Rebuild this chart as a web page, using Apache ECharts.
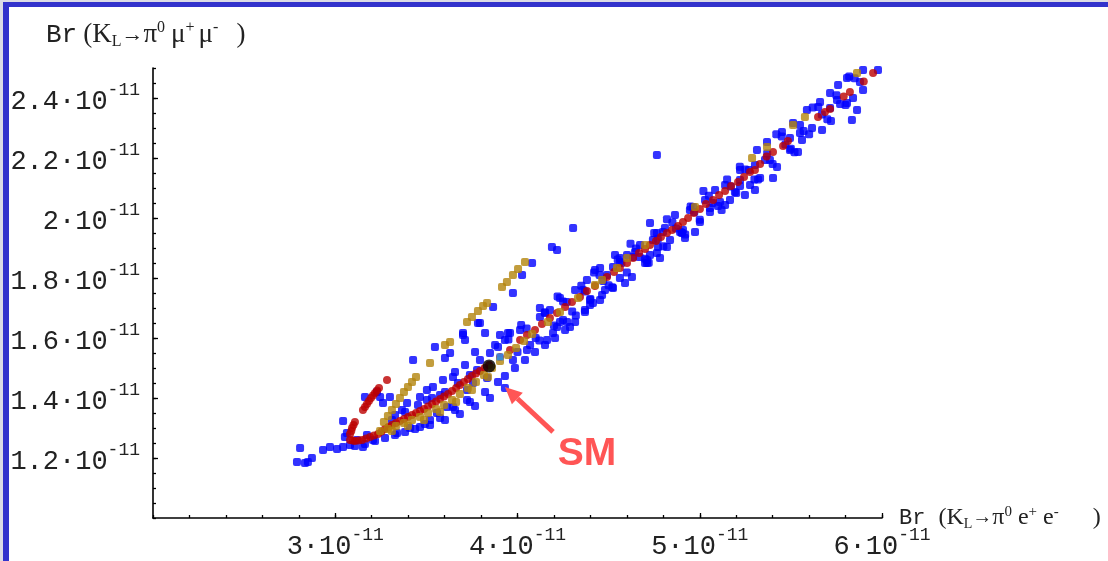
<!DOCTYPE html>
<html><head><meta charset="utf-8">
<script src="https://cdn.jsdelivr.net/npm/echarts@6/dist/echarts.min.js"></script>
<style>html,body{margin:0;padding:0;background:#fff}#c{width:1108px;height:561px}</style>
</head><body><div id="c"></div>
<script>
// Values in units of 1e-11: [Br(KL->pi0 e+e-), Br(KL->pi0 mu+mu-)]
const bluePoints = [
[2.79,1.187],[2.807,1.233],[2.834,1.183],[2.872,1.2],[2.85,1.187],[2.933,1.227],[2.971,1.237],[3.01,1.23],
[3.043,1.237],[3.043,1.323],[3.064,1.283],[3.081,1.243],[3.119,1.26],[3.152,1.237],[3.174,1.277],[3.207,1.26],[3.053,1.27],
[3.163,1.403],[3.229,1.42],[3.246,1.403],[3.262,1.383],[3.3,1.403],[3.328,1.343],[3.339,1.283],[3.366,1.36],[3.394,1.383],
[3.427,1.527],[3.465,1.403],[3.465,1.303],[3.503,1.393],[3.503,1.427],[3.52,1.327],[3.536,1.437],[3.547,1.57],[3.558,1.35],
[3.591,1.46],[3.602,1.533],[3.613,1.37],[3.63,1.55],[3.646,1.47],[3.646,1.37],[3.701,1.617],[3.712,1.593],[3.723,1.427],
[3.723,1.393],[3.756,1.45],[3.767,1.553],[3.778,1.493],[3.794,1.65],[3.822,1.617],[3.833,1.467],[3.849,1.55],[3.866,1.703],
[3.893,1.57],[3.948,1.617],[3.975,1.527],[3.975,1.75],[4.025,1.81],[4.052,1.56],[4.08,1.85],[4.123,1.67],[4.123,1.7],
[4.162,1.593],[4.189,1.903],[4.195,1.617],[4.217,1.893],[4.217,1.637],[4.25,1.66],[4.272,1.653],[4.288,1.637],[4.305,1.967],
[3.783,1.65],[3.701,1.61],[3.959,1.617],
[3.41,1.3],[3.492,1.313],[3.575,1.333],[3.657,1.36],[3.739,1.387],[3.822,1.42],[3.893,1.453],[3.931,1.473],[3.986,1.5],
[4.041,1.527],[4.096,1.553],[4.151,1.577],[4.206,1.6],[4.261,1.627],[4.316,1.653],[4.37,1.687],[4.398,1.71],
[4.359,1.76],[4.381,1.793],[4.37,1.693],[4.414,1.717],[4.491,1.81],[4.524,1.767],[4.628,1.803],[4.634,1.87],[4.711,1.85],
[4.743,1.927],[4.765,1.883],[4.798,1.953],[4.837,1.927],[4.864,2.01],[4.727,1.983],[4.765,1.95],[4.908,1.96],[4.919,1.933],
[4.963,2.037],[5.001,1.987],[5.056,2.02],[5.111,2.053],[4.771,1.903],[4.711,1.86],[4.7,1.85],[4.601,1.877],[4.524,1.837],
[4.48,1.76],[4.464,1.743],[4.82,1.903],[4.903,1.95],[4.453,1.833],[4.562,1.867],[4.672,1.91],[4.316,1.76],[4.233,1.733],
[4.178,1.693],[4.425,1.827],[4.535,1.877],
[4.765,2.21],
[5.029,2.06],[5.084,2.093],[5.139,2.11],[5.166,2.06],[5.193,2.087],[5.221,2.127],[5.248,2.077],[5.276,2.11],[5.303,2.093],
[5.314,2.227],[5.331,2.133],[5.369,2.253],[5.402,2.133],[5.424,2.17],[5.451,2.287],[5.495,2.267],[5.512,2.317],[5.539,2.22],
[5.561,2.26],[5.588,2.36],[5.616,2.3],[5.66,2.387],[5.671,2.293],[5.715,2.417],[5.753,2.393],[5.759,2.443],[5.808,2.467],
[5.808,2.383],[5.835,2.327],[5.841,2.4],[5.863,2.36],[5.896,2.427],[5.896,2.493],[5.978,2.493],[5.303,2.177],[5.358,2.193],[5.221,2.16],
[4.069,1.577],[4.233,1.653],[4.398,1.727],[4.562,1.8],[4.727,1.877],[4.892,1.953],[5.056,2.033],[5.221,2.107],[5.385,2.193],
[5.55,2.283],[5.715,2.367],[5.879,2.453],
[4.151,1.683],[4.562,1.853],[4.645,1.887],[4.809,1.967],[4.946,2.027],
[4.453,1.727],[4.59,1.783],[4.782,1.867],[4.974,1.953],[5.139,2.043],[5.495,2.227],
[3.95,1.595],[4.05,1.632],[4.15,1.686],[4.25,1.722],[4.35,1.774],[4.45,1.81],[4.55,1.862],[4.65,1.898],[4.75,1.95],
[4.85,1.985],[4.95,2.038],[5.05,2.074],[5.15,2.128],[5.25,2.162],[5.45,2.272],[5.55,2.31],[5.65,2.37],[5.75,2.409],[5.85,2.466],
[4.0,1.553],[4.1,1.6],[4.2,1.642],[4.3,1.688],[4.4,1.73],[4.5,1.776],[4.6,1.818],[4.7,1.864],[4.8,1.906],[4.9,1.952],
[5.0,1.994],[5.1,2.04],[5.2,2.083],[5.3,2.128],[5.4,2.18],[5.5,2.231],[5.6,2.279],[5.7,2.329],[5.8,2.377],
[3.108,1.24],[3.163,1.247],[3.218,1.257],[3.273,1.267],[3.328,1.277],[3.383,1.287],[3.438,1.297],[3.52,1.31],[3.602,1.327],
[3.684,1.347],[3.767,1.373],[3.849,1.4],[3.931,1.433],
[3.311,1.327],[3.383,1.353],[3.454,1.377],[3.531,1.4],[3.602,1.42],[3.673,1.45],[3.739,1.477],[3.575,1.41],[3.657,1.487],
[3.712,1.51],[3.794,1.527],[3.877,1.577],[3.931,1.593],[4.014,1.627],[3.904,1.61],
[4.02,1.643],[4.22,1.738],[4.42,1.818],[4.62,1.914],[4.82,1.996],[5.02,2.09],[5.22,2.171],[5.42,2.279],[5.62,2.368],[5.82,2.472],
[4.12,1.592],[4.32,1.675],[4.52,1.769],[4.72,1.851],[4.92,1.945],[5.12,2.027],[5.32,2.128],[5.52,2.219],[5.72,2.323],
[4.27,1.72],[4.47,1.79],[4.67,1.87],[4.87,1.965],[5.07,2.05],[5.27,2.16],[5.47,2.245],[5.67,2.345],
[4.37,1.755],[4.57,1.85],[4.77,1.93],[4.97,2.02],[5.17,2.105],[5.37,2.215],[5.57,2.29],[5.77,2.38]
];
const redPoints = [
[3.081,1.26],[3.108,1.257],[3.147,1.26],[3.191,1.27],[3.235,1.28],[3.273,1.297],[3.311,1.31],[3.355,1.323],[3.399,1.337],
[3.443,1.35],[3.487,1.363],[3.531,1.38],[3.575,1.397],[3.619,1.413],[3.663,1.433],[3.706,1.453],[3.75,1.473],[3.794,1.49],
[3.095,1.258],[3.128,1.258],[3.169,1.265],[3.213,1.275],[3.254,1.288],[3.292,1.303],[3.333,1.317],[3.377,1.33],[3.421,1.343],
[3.465,1.357],[3.509,1.372],[3.553,1.388],[3.597,1.405],[3.641,1.423],[3.684,1.443],[3.728,1.463],[3.772,1.482],[3.82,1.5],
[3.081,1.28],[3.092,1.3],[3.108,1.32],[3.152,1.36],[3.174,1.38],[3.196,1.4],[3.218,1.417],[3.24,1.433],[3.284,1.46],
[3.088,1.29],[3.1,1.31],[3.163,1.37],[3.185,1.39],[3.207,1.408],[3.229,1.425],
[3.844,1.51],[3.904,1.537],[3.959,1.56],[4.014,1.593],[4.096,1.627],[4.178,1.667],[4.261,1.703],[4.343,1.737],[4.425,1.773],
[4.491,1.803],[4.562,1.833],[4.634,1.867],[4.7,1.897],[4.76,1.923],[4.82,1.95],[4.881,1.973],[4.936,2.0],[5.001,2.03],
[5.073,2.06],[5.139,2.09],[5.21,2.12],[5.276,2.153],[5.303,2.16],[5.331,2.18],[5.402,2.22],[5.457,2.24],[5.484,2.257],
[5.649,2.337],[5.687,2.353],[5.715,2.363],[5.824,2.42],[5.951,2.483],
[4.052,1.61],[4.134,1.647],[4.217,1.683],[4.299,1.72],[4.381,1.757],[4.53,1.82],[4.601,1.85],[4.667,1.883],[4.727,1.91],
[4.787,1.937],[4.848,1.96],[4.908,1.987],[4.968,2.017],[5.034,2.047],[5.106,2.077],[5.172,2.107],[5.243,2.137],
[5.367,2.205],[5.79,2.405],[5.9,2.455]
];
const goldPoints = [
[3.246,1.29],[3.289,1.297],[3.333,1.307],[3.377,1.317],[3.421,1.327],[3.465,1.337],[3.509,1.35],[3.553,1.363],[3.597,1.377],
[3.641,1.393],[3.684,1.413],[3.728,1.433],[3.772,1.453],[3.816,1.477],[3.86,1.5],[3.904,1.523],[3.948,1.543],[3.992,1.567],
[4.036,1.59],[4.08,1.613],
[3.311,1.29],[3.399,1.307],[3.487,1.327],[3.575,1.353],[3.663,1.387],[3.75,1.427],[3.838,1.47],
[3.267,1.32],[3.289,1.34],[3.311,1.36],[3.333,1.38],[3.355,1.4],[3.377,1.42],[3.399,1.437],[3.421,1.453],[3.443,1.47],
[3.52,1.517],[3.602,1.577],[3.63,1.587],[3.723,1.653],[3.75,1.67],[3.783,1.69],[3.811,1.707],[3.833,1.717],
[3.915,1.77],[3.942,1.787],[3.975,1.81],[4.003,1.83],[4.041,1.853],
[4.167,1.653],[4.233,1.687],[4.332,1.733],[4.425,1.777],[4.464,1.793],[4.546,1.833],[4.601,1.867],[4.7,1.91],[4.974,2.037],
[5.287,2.2],[5.369,2.237],[5.512,2.31],[5.577,2.337],[5.863,2.483]
];
const smPoint = [[3.844,1.507]];
const lightBluePoint = [[3.904,1.537]];
const xTickValues = [3,4,5,6];
const yTickValues = [1.2,1.4,1.6,1.8,2.0,2.2,2.4];
const arrowFrom = [4.195,1.287];
const arrowTo = [3.931,1.437];
const smLabelAt = [4.381,1.213];

const MONO = 'Liberation Mono';
const SERIF = 'Liberation Serif';
const INK = '#222';
function sciLabel(v){
  const n = Number(v.toFixed(1));
  return '{b|' + n + '·10}{s|-11}';
}
const tickRich = {
  b:{fontFamily:MONO,fontSize:27,color:INK,lineHeight:34,verticalAlign:'bottom'},
  s:{fontFamily:MONO,fontSize:18,color:INK,lineHeight:18,verticalAlign:'top'}
};
const chart = echarts.init(document.getElementById('c'));
const gridPos = {left:153,right:226,top:68,bottom:43};
chart.setOption({
  animation:false,
  backgroundColor:'#ffffff',
  grid:[Object.assign({},gridPos),Object.assign({},gridPos)],
  xAxis:[
    {type:'value',gridIndex:0,min:2,max:6,interval:1,
     axisLine:{show:true,onZero:false,lineStyle:{color:'#000',width:1.6}},
     axisTick:{show:true,inside:true,length:5,customValues:xTickValues,lineStyle:{color:'#000',width:1.3}},
     axisLabel:{show:true,margin:8,customValues:xTickValues,formatter:sciLabel,rich:tickRich},
     splitLine:{show:false}},
    {type:'value',gridIndex:1,min:2,max:6,interval:0.2,
     axisLine:{show:false},
     axisTick:{show:true,inside:true,length:3,lineStyle:{color:'#000',width:1.3}},
     axisLabel:{show:false},splitLine:{show:false}}
  ],
  yAxis:[
    {type:'value',gridIndex:0,min:1,max:2.5,interval:0.2,
     axisLine:{show:true,onZero:false,lineStyle:{color:'#000',width:1.6}},
     axisTick:{show:true,inside:true,length:5,customValues:yTickValues,lineStyle:{color:'#000',width:1.3}},
     axisLabel:{show:true,margin:13,customValues:yTickValues,formatter:sciLabel,rich:tickRich},
     splitLine:{show:false}},
    {type:'value',gridIndex:1,min:1,max:2.5,interval:0.05,
     axisLine:{show:false},
     axisTick:{show:true,inside:true,length:3,lineStyle:{color:'#000',width:1.3}},
     axisLabel:{show:false},splitLine:{show:false}}
  ],
  series:[
    {type:'scatter',name:'blue',data:bluePoints,symbol:'roundRect',symbolSize:8,itemStyle:{color:'#0000ff'},silent:true},
    {type:'scatter',name:'red',data:redPoints,symbol:'circle',symbolSize:8,itemStyle:{color:'#bb0000'},silent:true},
    {type:'scatter',name:'gold',data:goldPoints,symbol:'roundRect',symbolSize:8,itemStyle:{color:'#b3850c'},silent:true},
    {type:'scatter',name:'lightblue',data:lightBluePoint,symbol:'rect',symbolSize:7,itemStyle:{color:'#1e90ff'},silent:true},
    {type:'scatter',name:'SM',data:smPoint,symbol:'circle',symbolSize:13,itemStyle:{color:'#000'},silent:true,
     markPoint:{silent:true,symbol:'circle',symbolSize:0,
       label:{show:true,position:'inside',formatter:'SM',fontFamily:'Liberation Sans',fontWeight:'bold',fontSize:39,color:'#ff5555'},
       data:[{coord:smLabelAt}]}}
  ]
});

// annotation arrow anchored to data coordinates
const p1 = chart.convertToPixel({gridIndex:0}, arrowFrom);
const p2 = chart.convertToPixel({gridIndex:0}, arrowTo);
const dx = p2[0]-p1[0], dy = p2[1]-p1[1];
const len = Math.hypot(dx,dy), ux = dx/len, uy = dy/len;
const headLen = 17, headHalf = 8;
const base = [p2[0]-ux*headLen, p2[1]-uy*headLen];
const wingA = [base[0]-uy*headHalf, base[1]+ux*headHalf];
const wingB = [base[0]+uy*headHalf, base[1]-ux*headHalf];
const ARROW = '#ff5555';

const titleRichY = {
  m:{fontFamily:MONO,fontSize:26,fill:INK,lineHeight:30},
  p:{fontFamily:SERIF,fontSize:27,fill:INK,lineHeight:30,padding:[0,0,0,6]},
  k:{fontFamily:SERIF,fontSize:27,fill:INK,lineHeight:30},
  a:{fontFamily:SERIF,fontSize:22,fill:INK,lineHeight:30},
  sub:{fontFamily:SERIF,fontSize:16,fill:INK,lineHeight:22,verticalAlign:'bottom'},
  sup:{fontFamily:SERIF,fontSize:16,fill:INK,lineHeight:18,verticalAlign:'top'},
  g1:{fontFamily:SERIF,fontSize:27,fill:INK,lineHeight:30,padding:[0,0,0,6]},
  g2:{fontFamily:SERIF,fontSize:27,fill:INK,lineHeight:30,padding:[0,0,0,4]},
  q:{fontFamily:SERIF,fontSize:27,fill:INK,lineHeight:30,padding:[0,0,0,18]}
};
const titleRichX = {
  m:{fontFamily:MONO,fontSize:22,fill:INK,lineHeight:26},
  p:{fontFamily:SERIF,fontSize:24,fill:INK,lineHeight:26,padding:[0,0,0,13]},
  k:{fontFamily:SERIF,fontSize:24,fill:INK,lineHeight:26},
  a:{fontFamily:SERIF,fontSize:20,fill:INK,lineHeight:26},
  sub:{fontFamily:SERIF,fontSize:14,fill:INK,lineHeight:19,verticalAlign:'bottom'},
  sup:{fontFamily:SERIF,fontSize:15,fill:INK,lineHeight:15,verticalAlign:'top'},
  g1:{fontFamily:SERIF,fontSize:24,fill:INK,lineHeight:26,padding:[0,0,0,6]},
  g2:{fontFamily:SERIF,fontSize:24,fill:INK,lineHeight:26,padding:[0,0,0,6]},
  q:{fontFamily:SERIF,fontSize:24,fill:INK,lineHeight:26,padding:[0,0,0,34]}
};

chart.setOption({
  graphic:[
    {type:'rect',shape:{x:0,y:0,width:1108,height:2},style:{fill:'#dcdce6'},silent:true},
    {type:'rect',shape:{x:0,y:0,width:3,height:561},style:{fill:'#dcdce6'},silent:true},
    {type:'rect',shape:{x:3,y:2,width:1105,height:5},style:{fill:'#3333cc'},silent:true},
    {type:'rect',shape:{x:3,y:2,width:6,height:559},style:{fill:'#3333cc'},silent:true},
    {type:'polyline',silent:true,z:100,shape:{points:[p1,base]},style:{stroke:ARROW,lineWidth:5,fill:null}},
    {type:'polygon',silent:true,z:100,shape:{points:[p2,wingA,wingB]},style:{fill:ARROW}},
    {type:'text',left:46,top:20,silent:true,style:{
      text:'{m|Br}{p|(}{k|K}{sub|L}{a|→}{k|π}{sup|0}{g1|μ}{sup|+}{g2|μ}{sup|-}{q|)}',
      rich:titleRichY}},
    {type:'text',left:899,top:505,silent:true,style:{
      text:'{m|Br}{p|(}{k|K}{sub|L}{a|→}{k|π}{sup|0}{g1|e}{sup|+}{g2|e}{sup|-}{q|)}',
      rich:titleRichX}}
  ]
});
</script></body></html>
